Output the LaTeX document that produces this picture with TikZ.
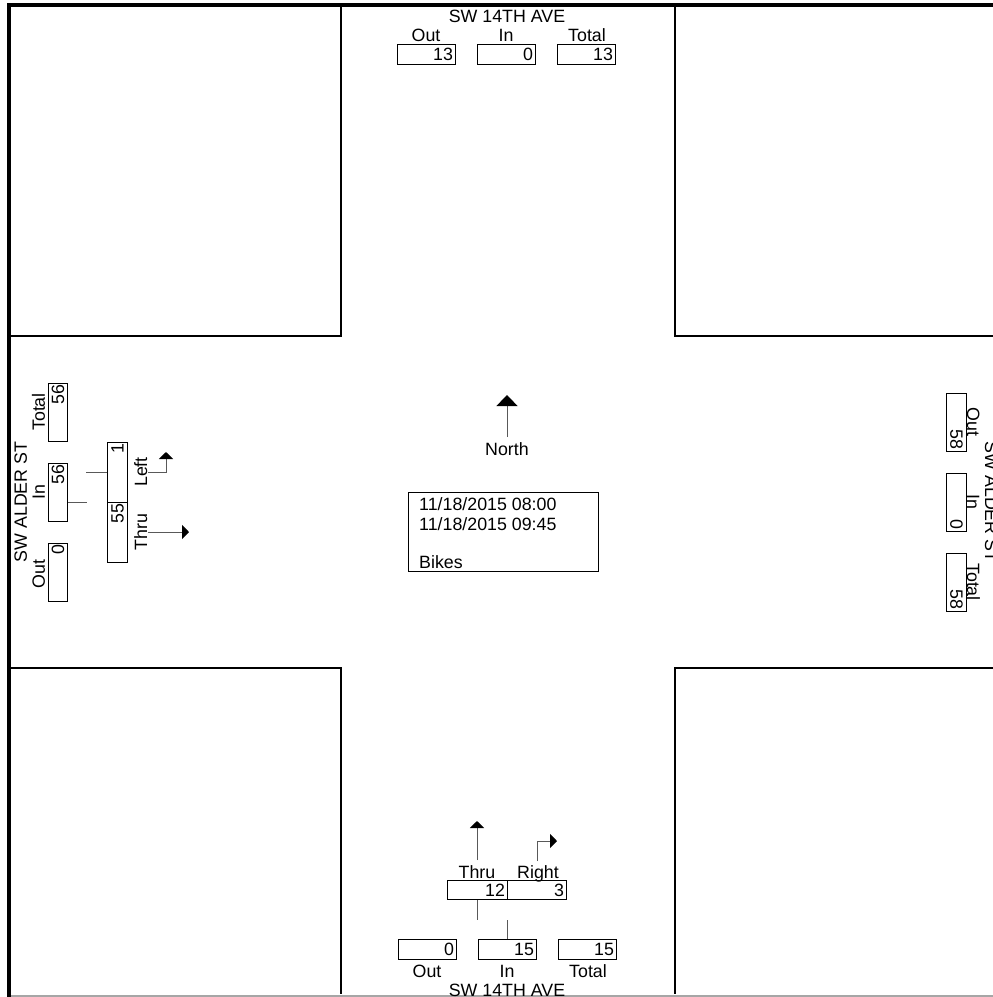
\documentclass[tikz,border=0pt]{standalone}
\usepackage{fontspec}
\setmainfont{Liberation Sans}
\usetikzlibrary{arrows.meta}
\begin{document}
\begin{tikzpicture}[x=1pt,y=-1pt,
  font=\fontsize{17.8}{21}\selectfont,
  box/.style={draw=black, line width=0.8pt, minimum height=19.5pt, inner xsep=2pt, inner ysep=0pt, text width=#1, align=right},
  box/.default=54pt,
  lbl/.style={anchor=base, inner sep=0pt},
  conn/.style={draw=black!65, line width=1pt},
  arr/.style={draw=black!65, line width=1pt, -{Triangle[width=14pt,length=7pt,color=black]}},
  arrbig/.style={draw=black!65, line width=1pt, -{Triangle[width=21pt,length=11pt,color=black]}},
  frame/.style={line width=4pt, black},
  blk/.style={line width=1.2pt, black}]
\useasboundingbox (0,0) rectangle (993,997);
% frame and blocks
\draw[frame] (7,5) -- (993,5);
\draw[frame] (9,3) -- (9,997);
\draw[black!35, line width=1.5pt] (11,996) -- (993,996);
\draw[blk] (11,336) -- (341,336) -- (341,7);
\draw[blk] (675,7) -- (675,336) -- (993,336);
\draw[blk] (11,668) -- (341,668) -- (341,994);
\draw[blk] (993,668) -- (675,668) -- (675,994);
% top approach
\node[lbl] (tName) at (507,22) {SW 14TH AVE};
\node[lbl] (tOutL) at (426,41) {Out};
\node[lbl] (tInL) at (506,41) {In};
\node[lbl] (tTotL) at (587,41) {Total};
\node[box] (tOut) at (426,54.5) {13};
\node[box] (tIn) at (506,54.5) {0};
\node[box] (tTot) at (586,54.5) {13};
% bottom approach
\node[box] (bOut) at (427,949.5) {0};
\node[box] (bIn) at (507,949.5) {15};
\node[box] (bTot) at (587,949.5) {15};
\node[lbl] (bOutL) at (427,977) {Out};
\node[lbl] (bInL) at (507,977) {In};
\node[lbl] (bTotL) at (588,977) {Total};
\node[lbl] (bName) at (507,996) {SW 14TH AVE};
\node[box=56pt] (bThru) at (477,890) {12};
\node[box=55pt] (bRight) at (536.5,890) {3};
\node[lbl] (bThruL) at (477,878) {Thru};
\node[lbl] (bRightL) at (538,878) {Right};
\draw[conn] (bThru.south) -- ++(0,20);
\draw[conn] (bIn.north) -- ++(0,-19);
\coordinate (bThruS) at (477,860);
\coordinate (bThruT) at (477,821);
\draw[arr] (bThruS) -- (bThruT);
\coordinate (bRightS) at (537,861);
\coordinate (bRightT) at (557,841);
\draw[arr] (bRightS) |- (bRightT);
% left approach
\node[lbl, rotate=90] (lName) at (27,502) {SW ALDER ST};
\node[lbl, rotate=90] (lTotL) at (45,412) {Total};
\node[lbl, rotate=90] (lInL) at (45,492) {In};
\node[lbl, rotate=90] (lOutL) at (45,574) {Out};
\node[box, rotate=90] (lTot) at (58,412) {56};
\node[box, rotate=90] (lIn) at (58,492) {56};
\node[box, rotate=90] (lOut) at (58,572) {0};
\node[box=56pt, rotate=90] (lLeft) at (117.5,472) {1};
\node[box=56pt, rotate=90] (lThru) at (117.5,532) {55};
\node[lbl, rotate=90] (lLeftL) at (147,472) {Left};
\node[lbl, rotate=90] (lThruL) at (147,532) {Thru};
\draw[conn] (lIn.south |- lLeft.west) -- ++(19,0);
\draw[conn] (lLeft.north) -- ++(-21,0);
\coordinate (lLeftS) at (148,472);
\coordinate (lLeftT) at (166,452);
\draw[arr] (lLeftS) -| (lLeftT);
\coordinate (lThruS) at (148,532);
\coordinate (lThruT) at (189,532);
\draw[arr] (lThruS) -- (lThruT);
% right approach
\node[box, rotate=-90] (rOut) at (956.5,422) {58};
\node[box, rotate=-90] (rIn) at (956.5,502) {0};
\node[box, rotate=-90] (rTot) at (956.5,582) {58};
\node[lbl, rotate=-90] (rOutL) at (967,422) {Out};
\node[lbl, rotate=-90] (rInL) at (967,502) {In};
\node[lbl, rotate=-90] (rTotL) at (967,582) {Total};
\node[lbl, rotate=-90] (rName) at (985,502) {SW ALDER ST};
% center
\node[lbl] (north) at (507,455) {North};
\coordinate (northS) at (507,437);
\coordinate (northT) at (507,395);
\draw[arrbig] (northS) -- (northT);
\node[draw=black, line width=0.8pt, minimum width=190pt, minimum height=79pt, inner sep=0pt] (info) at (503,531.5) {};
\node[anchor=base west, inner sep=0pt] (d1) at (419,510) {11/18/2015 08:00};
\node[anchor=base west, inner sep=0pt] (d2) at (419,530) {11/18/2015 09:45};
\node[anchor=base west, inner sep=0pt] (veh) at (419,568) {Bikes};
\end{tikzpicture}
\end{document}
